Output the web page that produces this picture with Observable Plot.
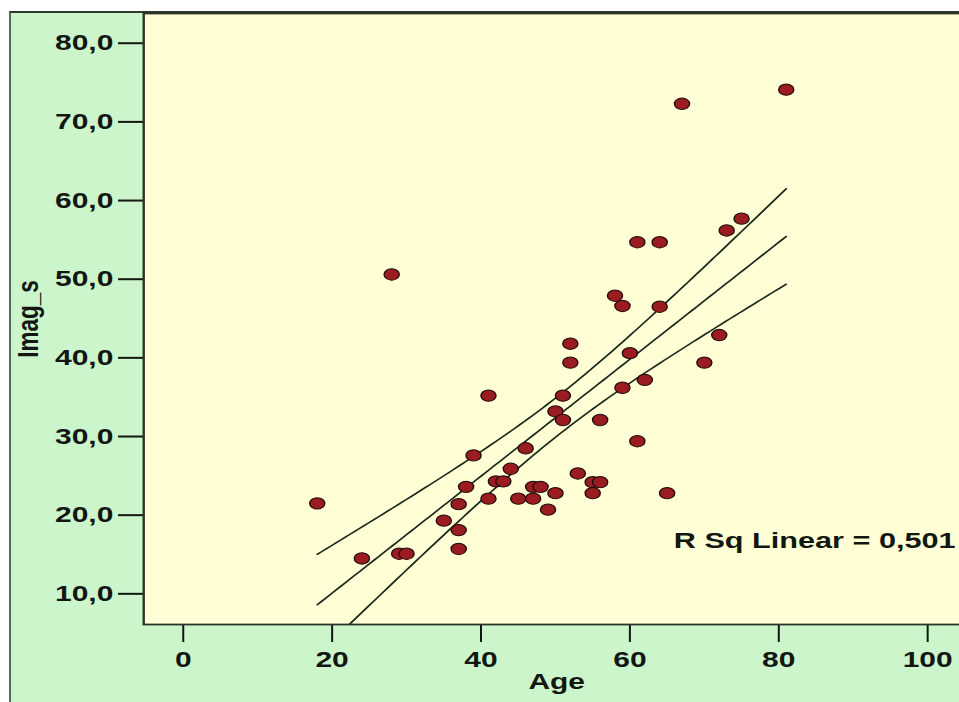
<!DOCTYPE html>
<html>
<head>
<meta charset="utf-8">
<title>Imag_s by Age</title>
<script src="https://cdn.jsdelivr.net/npm/d3@7"></script>
<script src="https://cdn.jsdelivr.net/npm/@observablehq/plot@0.6"></script>
<style>
  html, body { margin: 0; padding: 0; width: 959px; height: 702px; overflow: hidden; background: #ffffff; }
  /* mint chart panel with its own outline, drawn behind the plot */
  #panel {
    position: absolute; left: 9px; top: 11px; width: 1000px; height: 720px;
    background: #ccf5cc; border-left: 2px solid #5b665b; border-top: 2px solid #2e382e;
  }
  #chart { position: absolute; left: 0; top: 0; }
  #chart svg { transform-origin: 0 0; }
  #chart svg g[aria-label^="x-axis"] path, #chart svg g[aria-label^="x-axis"] line { stroke-width: 1.5px; }
  #chart svg g[aria-label^="y-axis"] path, #chart svg g[aria-label^="y-axis"] line { stroke-width: 2px; }
</style>
</head>
<body>
<div id="panel"></div>
<div id="chart"></div>
<script>
// Patients: age (years) and Imag_s score
const age = [
  18, 24, 28, 29, 30, 35, 37, 37, 37, 38,
  39, 41, 41, 42, 43, 44, 45, 46, 47, 47,
  48, 49, 50, 50, 51, 51, 52, 52, 53, 55,
  55, 56, 56, 58, 59, 59, 60, 61, 61, 62,
  64, 64, 65, 67, 70, 72, 73, 75, 81
];
const imag = [
  21.5, 14.5, 50.6, 15.1, 15.1, 19.3, 21.4, 18.1, 15.7, 23.6,
  27.6, 35.2, 22.1, 24.3, 24.3, 25.9, 22.1, 28.5, 23.6, 22.1,
  23.6, 20.7, 33.2, 22.8, 35.2, 32.1, 41.8, 39.4, 25.3, 24.2,
  22.8, 32.1, 24.2, 47.9, 46.6, 36.2, 40.6, 54.7, 29.4, 37.2,
  54.7, 46.5, 22.8, 72.3, 39.4, 42.9, 56.2, 57.7, 74.1
];

const xTicks = [0, 20, 40, 60, 80, 100];
const yTicks = [10, 20, 30, 40, 50, 60, 70, 80];
const xDomain = [-5.31, 105.64];
const yDomain = [6.10, 83.78];

const rSquaredLabel = "R Sq Linear = 0,501";
const rSquaredAt = {age: 65.9, imag: 16.8};

// the whole drawing is widened horizontally by this factor
const stretch = 959 / 720;

const points = age.map((a, i) => ({age: a, imag: imag[i]}));

// least-squares fit with a 90% confidence band for the mean
const n = points.length;
const mx = d3.mean(points, d => d.age);
const my = d3.mean(points, d => d.imag);
const sxx = d3.sum(points, d => (d.age - mx) ** 2);
const sxy = d3.sum(points, d => (d.age - mx) * (d.imag - my));
const slope = sxy / sxx;
const intercept = my - slope * mx;
const sse = d3.sum(points, d => (d.imag - (intercept + slope * d.age)) ** 2);
const sres = Math.sqrt(sse / (n - 2));
const tCrit = 1.6779; // t(0.95, n - 2 = 47)

const [xmin, xmax] = d3.extent(points, d => d.age);
const fit = d3.range(0, 101).map(k => {
  const x = xmin + (xmax - xmin) * k / 100;
  const yhat = intercept + slope * x;
  const half = tCrit * sres * Math.sqrt(1 / n + (x - mx) ** 2 / sxx);
  return {age: x, fit: yhat, lo: yhat - half, hi: yhat + half};
});

const font = "'Liberation Sans', Arial, Helvetica, sans-serif";
const lineColor = "#1c2a1c";

const chart = Plot.plot({
  width: 728,
  height: 702,
  marginLeft: 107.4,
  marginRight: 0.5,
  marginTop: 13,
  marginBottom: 78,
  style: {
    background: "transparent",
    fontFamily: font,
    fontSize: "22.5px",
    fontWeight: "bold",
    color: "#121712",
    overflow: "visible"
  },
  x: {domain: xDomain, ticks: xTicks, tickSize: 18, tickPadding: 9, tickFormat: d => String(d), label: null},
  y: {domain: yDomain, ticks: yTicks, tickSize: 18.8, tickPadding: 4, tickFormat: d => d.toFixed(1).replace(".", ","), label: null},
  marks: [
    Plot.frame({fill: "#fffed4", stroke: null}),
    Plot.line(fit, {x: "age", y: "hi", stroke: lineColor, strokeWidth: 1.5, clip: true}),
    Plot.line(fit, {x: "age", y: "fit", stroke: lineColor, strokeWidth: 1.5, clip: true}),
    Plot.line(fit, {x: "age", y: "lo", stroke: lineColor, strokeWidth: 1.5, clip: true}),
    Plot.dot(points, {x: "age", y: "imag", r: 5.7, fill: "#9a1b20", stroke: "#1e0c0c", strokeWidth: 1}),
    Plot.text([rSquaredLabel], {
      x: () => rSquaredAt.age, y: () => rSquaredAt.imag, text: d => d,
      textAnchor: "start", fontSize: 23, fontWeight: "bold", fill: "#121712"
    }),
    Plot.text(["Age"], {text: d => d, frameAnchor: "bottom", textAnchor: "middle", dy: 64, fontSize: 22.5, fontWeight: "bold"}),
    Plot.text(["Imag_s"], {text: d => d, frameAnchor: "left", textAnchor: "middle", rotate: -90, dx: -86.9, fontSize: 22.5, fontWeight: "bold"}),
    Plot.frame({stroke: "#2b362b", strokeWidth: 1.8})
  ]
});

chart.style.transformOrigin = "0 0";
chart.style.transform = `scale(${stretch}, 1)`;
document.getElementById("chart").appendChild(chart);
</script>
</body>
</html>
